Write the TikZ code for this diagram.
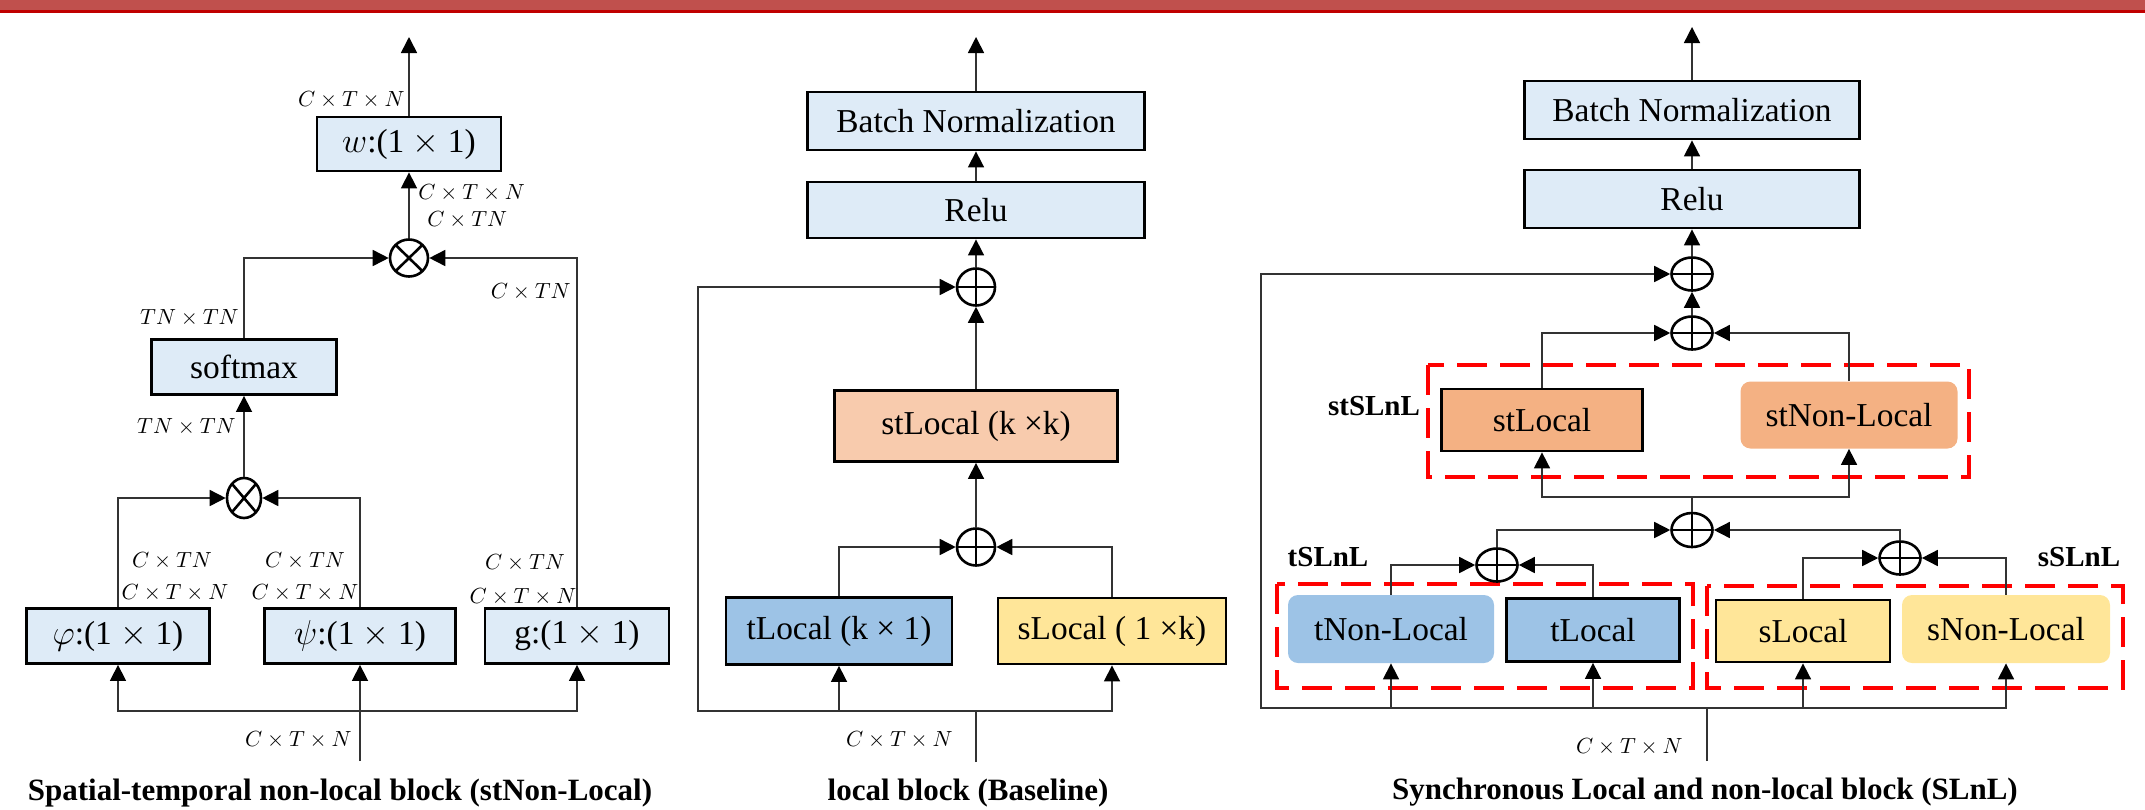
\documentclass[tikz,border=0pt]{standalone}
\usepackage{fontspec}
\setmainfont{Liberation Serif}
\usetikzlibrary{arrows.meta}
\usetikzlibrary{shapes.geometric}
\definecolor{paleblue}{RGB}{222,235,247}
\definecolor{peach}{RGB}{248,203,173}
\definecolor{tblue}{RGB}{157,195,230}
\definecolor{syellow}{RGB}{255,230,153}
\definecolor{storange}{RGB}{244,177,131}
\definecolor{barfill}{RGB}{192,80,77}
\definecolor{barline}{RGB}{192,0,0}
\newcommand{\boxfont}{\fontsize{16.7}{20}\selectfont}
\newcommand{\dimfont}{\fontsize{10.5}{12}\selectfont}
\newcommand{\capfont}{\fontsize{15.5}{18}\selectfont\bfseries}
\newcommand{\grpfont}{\fontsize{14.5}{17}\selectfont\bfseries}
\tikzset{
    blk/.style = {rectangle, draw=black, line width=1.4pt, inner sep=0pt, font=\boxfont},
    paleblk/.style = {blk, fill=paleblue},
    peachblk/.style = {blk, fill=peach},
    tblk/.style = {blk, fill=tblue},
    sblk/.style = {blk, fill=syellow},
    stblk/.style = {blk, fill=storange},
    nlblk/.style = {rectangle, rounded corners=5pt, inner sep=0pt, font=\boxfont}
}
\tikzset{
    opnode/.style = {ellipse, draw=black, line width=1.3pt, inner sep=0pt, minimum width=19pt, minimum height=18.5pt},
    opplus/.style = {opnode, path picture={\draw[line width=1.3pt] (path picture bounding box.north) -- (path picture bounding box.south) (path picture bounding box.west) -- (path picture bounding box.east);}},
    optimes/.style = {opnode, path picture={\draw[line width=1.3pt] (path picture bounding box.north west) -- (path picture bounding box.south east) (path picture bounding box.north east) -- (path picture bounding box.south west);}},
    wire/.style = {draw=black!80, line width=0.8pt},
    flow/.style = {wire, -{Triangle[length=8pt,width=8pt,black]}},
    dimlbl/.style = {inner sep=0pt, font=\dimfont},
    grp/.style = {draw=red, line width=2pt, dash pattern=on 15pt off 6.5pt},
    grplbl/.style = {inner sep=0pt, font=\grpfont},
    captxt/.style = {inner sep=0pt, font=\capfont}
}
\begin{document}
\begin{tikzpicture}[x=0.5pt, y=-0.5pt]
    \useasboundingbox (0,0) rectangle (2145,809);
    % slide header
    \fill[barfill] (0,0) rectangle (2145,10);
    \draw[barline, line width=1.5pt] (0,11) -- (2145,11);

    % stNon-Local block
    \node[paleblk, minimum width=92pt, minimum height=27pt] (wconv) at (409,144) {$w$:(1 $\times$ 1)};
    \node[optimes] (otA) at (409,258) {};
    \node[paleblk, minimum width=92.5pt, minimum height=27.5pt] (soft) at (244,367) {softmax};
    \node[optimes, minimum width=17pt, minimum height=20pt] (otB) at (244,498) {};
    \node[paleblk, minimum width=91.5pt, minimum height=27.5pt] (phi) at (118,636) {$\varphi$:(1 $\times$ 1)};
    \node[paleblk, minimum width=95.5pt, minimum height=27.5pt] (psi) at (360,636) {$\psi$:(1 $\times$ 1)};
    \node[paleblk, minimum width=92pt, minimum height=27.5pt] (gconv) at (577,636) {g:(1 $\times$ 1)};
    \coordinate (inL) at (360,761);
    \coordinate (jL) at (360,711);
    \coordinate (outL) at (409,37);
    \draw[wire] (inL) -- (jL);
    \draw[flow] (jL) -- (psi.south);
    \draw[flow] (jL) -| (phi.south);
    \draw[flow] (jL) -| (gconv.south);
    \draw[flow] (phi.north) |- (otB.west);
    \draw[flow] (psi.north) |- (otB.east);
    \draw[flow] (otB.north) -- (soft.south);
    \draw[flow] (soft.north) |- (otA.west);
    \draw[flow] (gconv.north) |- (otA.east);
    \draw[flow] (otA.north) -- (wconv.south);
    \draw[flow] (wconv.north) -- (outL);
    \node[dimlbl, anchor=east] (dL1) at (405,100) {$C\times T\times N$};
    \node[dimlbl, anchor=west] (dL2) at (418,193) {$C\times T\times N$};
    \node[dimlbl, anchor=west] (dL3) at (427,220) {$C\times TN$};
    \node[dimlbl, anchor=east] (dL4) at (239,318) {$TN\times TN$};
    \node[dimlbl, anchor=east] (dL5) at (571,292) {$C\times TN$};
    \node[dimlbl, anchor=east] (dL6) at (236,427) {$TN\times TN$};
    \node[dimlbl] (dL7) at (172,561) {$C\times TN$};
    \node[dimlbl] (dL8) at (175,593) {$C\times T\times N$};
    \node[dimlbl] (dL9) at (305,561) {$C\times TN$};
    \node[dimlbl] (dL10) at (305,593) {$C\times T\times N$};
    \node[dimlbl] (dL11) at (525,563) {$C\times TN$};
    \node[dimlbl] (dL12) at (523,597) {$C\times T\times N$};
    \node[dimlbl, anchor=east] (dL13) at (352,740) {$C\times T\times N$};
    \node[captxt] (capL) at (340,793) {Spatial-temporal non-local block (stNon-Local)};

    % local block (Baseline)
    \node[paleblk, minimum width=168.5pt, minimum height=29pt] (bnM) at (976,121) {Batch Normalization};
    \node[paleblk, minimum width=168.5pt, minimum height=28pt] (reluM) at (976,210) {Relu};
    \node[opplus] (opM1) at (976,287) {};
    \node[peachblk, minimum width=141.5pt, minimum height=35.5pt] (stk) at (976,426) {stLocal (k ×k)};
    \node[opplus] (opM2) at (976,547) {};
    \node[tblk, minimum width=113pt, minimum height=33.5pt] (tlk) at (839,631) {tLocal (k × 1)};
    \node[sblk, minimum width=114pt, minimum height=33pt] (slk) at (1112,631) {sLocal ( 1 ×k)};
    \coordinate (inM) at (976,762);
    \coordinate (jM) at (976,711);
    \coordinate (skipM) at (698,711);
    \coordinate (outM) at (976,37);
    \draw[wire] (inM) -- (jM);
    \draw[flow] (jM) -| (tlk.south);
    \draw[flow] (jM) -| (slk.south);
    \draw[flow] (jM) -- (skipM) |- (opM1.west);
    \draw[flow] (tlk.north) |- (opM2.west);
    \draw[flow] (slk.north) |- (opM2.east);
    \draw[flow] (opM2.north) -- (stk.south);
    \draw[flow] (stk.north) -- (opM1.south);
    \draw[flow] (opM1.north) -- (reluM.south);
    \draw[flow] (reluM.north) -- (bnM.south);
    \draw[flow] (bnM.north) -- (outM);
    \node[dimlbl, anchor=east] (dM1) at (953,740) {$C\times T\times N$};
    \node[captxt] (capM) at (968,793) {local block (Baseline)};

    % SLnL block
    \draw[grp] (1428,365) rectangle (1969,477);
    \draw[grp] (1277,584) rectangle (1693,688);
    \draw[grp] (1707,586) rectangle (2123,688);
    \node[paleblk, minimum width=167.5pt, minimum height=29pt] (bnR) at (1692,110) {Batch Normalization};
    \node[paleblk, minimum width=167.5pt, minimum height=29pt] (reluR) at (1692,199) {Relu};
    \node[opplus, minimum width=20.5pt, minimum height=16.5pt] (opA) at (1692,274) {};
    \node[opplus, minimum width=20.5pt, minimum height=16.5pt] (opB) at (1692,333) {};
    \node[stblk, minimum width=100.5pt, minimum height=31pt] (stl) at (1542,420) {stLocal};
    \node[nlblk, fill=storange, minimum width=108.5pt, minimum height=33.5pt] (stnl) at (1849,415) {stNon-Local};
    \node[opplus, minimum width=20.5pt, minimum height=17pt] (opC) at (1692,530) {};
    \node[opplus, minimum width=20.5pt, minimum height=16.5pt] (opD) at (1497,565) {};
    \node[opplus, minimum width=20.5pt, minimum height=16.5pt] (opE) at (1900,558) {};
    \node[nlblk, fill=tblue, minimum width=103pt, minimum height=34pt] (tnl) at (1391,629) {tNon-Local};
    \node[tblk, minimum width=86.5pt, minimum height=31.5pt] (tl) at (1593,630) {tLocal};
    \node[sblk, minimum width=87pt, minimum height=31pt] (sl) at (1803,631) {sLocal};
    \node[nlblk, fill=syellow, minimum width=104pt, minimum height=34pt] (snl) at (2006,629) {sNon-Local};
    \coordinate (inR) at (1707,761);
    \coordinate (jR) at (1707,708);
    \coordinate (skipR) at (1261,708);
    \coordinate (jC) at (1692,497);
    \coordinate (outR) at (1692,27);
    \draw[wire] (inR) -- (jR);
    \draw[flow] (jR) -- (skipR) |- (opA.west);
    \draw[flow] (jR) -| (tnl.south);
    \draw[flow] (jR) -| (tl.south);
    \draw[flow] (jR) -| (sl.south);
    \draw[flow] (jR) -| (snl.south);
    \draw[flow] (tnl.north) |- (opD.west);
    \draw[flow] (tl.north) |- (opD.east);
    \draw[flow] (sl.north) |- (opE.west);
    \draw[flow] (snl.north) |- (opE.east);
    \draw[flow] (opD.north) |- (opC.west);
    \draw[flow] (opE.north) |- (opC.east);
    \draw[wire] (opC.north) -- (jC);
    \draw[flow] (jC) -| (stl.south);
    \draw[flow] (jC) -| (stnl.south);
    \draw[flow] (stl.north) |- (opB.west);
    \draw[flow] (stnl.north) |- (opB.east);
    \draw[flow] (opB.north) -- (opA.south);
    \draw[flow] (opA.north) -- (reluR.south);
    \draw[flow] (reluR.north) -- (bnR.south);
    \draw[flow] (bnR.north) -- (outR);
    \node[grplbl] (gst) at (1374,406) {stSLnL};
    \node[grplbl] (gt) at (1328,557) {tSLnL};
    \node[grplbl] (gs) at (2079,557) {sSLnL};
    \node[dimlbl, anchor=east] (dR1) at (1683,747) {$C\times T\times N$};
    \node[captxt] (capR) at (1705,792) {Synchronous Local and non-local block (SLnL)};
\end{tikzpicture}
\end{document}
